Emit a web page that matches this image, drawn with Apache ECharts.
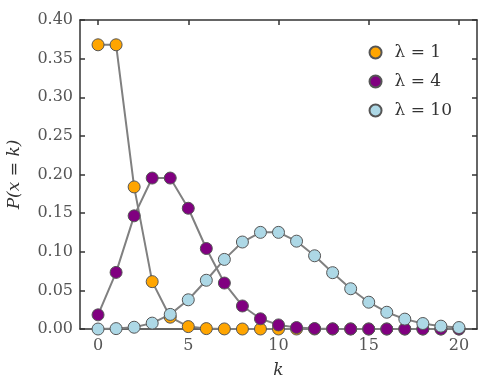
<!DOCTYPE html>
<html><head><meta charset="utf-8">
<script src="https://cdn.jsdelivr.net/npm/echarts@6/dist/echarts.min.js"></script>
<style>html,body{margin:0;padding:0;background:#fff}#c{width:491px;height:385px}</style>
</head><body><div id="c"></div>
<script>
const ks = [0,1,2,3,4,5,6,7,8,9,10,11,12,13,14,15,16,17,18,19,20];
const lam1 = [0.3679,0.3679,0.1839,0.0613,0.0153,0.0031,0.0005,0.0001,0.0000,0.0000,0.0000,0.0000,0.0000,0.0000,0.0000,0.0000,0.0000,0.0000,0.0000,0.0000,0.0000];
const lam4 = [0.0183,0.0733,0.1465,0.1954,0.1954,0.1563,0.1042,0.0595,0.0298,0.0132,0.0053,0.0019,0.0006,0.0002,0.0001,0.0000,0.0000,0.0000,0.0000,0.0000,0.0000];
const lam10 = [0.0000,0.0005,0.0023,0.0076,0.0189,0.0378,0.0631,0.0901,0.1126,0.1251,0.1251,0.1137,0.0948,0.0729,0.0521,0.0347,0.0217,0.0128,0.0071,0.0037,0.0019];
const seriesNames = ['λ = 1','λ = 4','λ = 10'];
const seriesColors = ['#FFA500','#800080','#ADD8E6'];
const xTicks = [0,5,10,15,20];
const yTickLabels = ['0.00','0.05','0.10','0.15','0.20','0.25','0.30','0.35','0.40'];

const font = 'DejaVu Serif';
const axisLine = {show:true, onZero:false, lineStyle:{color:'#333', width:1.5}};
const chart = echarts.init(document.getElementById('c'));
const mk = (name, vals, color) => ({
  name, type:'line', xAxisIndex:0, yAxisIndex:0,
  data: ks.map((k,i)=>[k, vals[i]]),
  symbol:'circle', symbolSize:12, showSymbol:true,
  lineStyle:{color:'#808080', width:2},
  itemStyle:{color, borderColor:'#555', borderWidth:1},
  emphasis:{disabled:true}, animation:false
});
chart.setOption({
  animation:false,
  grid:{left:80, right:14, top:20, bottom:56, containLabel:false, outerBoundsMode:'none'},
  legend:{
    orient:'vertical', right:34, top:39, icon:'circle', itemWidth:12, itemHeight:12, itemGap:12,
    textStyle:{fontFamily:font, fontSize:17, color:'#333', padding:[0,0,0,8]},
    data: seriesNames
  },
  xAxis:[
    {type:'value', min:-1, max:21, name:'k', nameLocation:'middle', nameGap:33,
     nameTextStyle:{fontFamily:font, fontStyle:'italic', fontSize:17, color:'#333'},
     axisLine, splitLine:{show:false},
     axisTick:{show:true, inside:true, length:5, customValues:xTicks, lineStyle:{color:'#333', width:1.5}},
     axisLabel:{customValues:xTicks, fontFamily:font, fontSize:16, color:'#555', margin:9}},
    {type:'value', position:'top', min:-1, max:21, axisLine, splitLine:{show:false},
     axisTick:{show:true, inside:true, length:5, customValues:xTicks, lineStyle:{color:'#333', width:1.5}},
     axisLabel:{show:false}}
  ],
  yAxis:[
    {type:'value', min:0, max:0.4, interval:0.05, name:'P(x = k)', nameLocation:'middle', nameGap:57, nameRotate:90,
     nameTextStyle:{fontFamily:font, fontStyle:'italic', fontSize:17, color:'#333'},
     axisLine, splitLine:{show:false},
     axisTick:{show:true, inside:true, length:5, lineStyle:{color:'#333', width:1.5}},
     axisLabel:{fontFamily:font, fontSize:16, color:'#555', margin:7, formatter:(v)=>yTickLabels[Math.round(v/0.05)]}},
    {type:'value', position:'right', min:0, max:0.4, interval:0.05, axisLine, splitLine:{show:false},
     axisTick:{show:true, inside:true, length:5, lineStyle:{color:'#333', width:1.5}},
     axisLabel:{show:false}}
  ],
  series:[mk(seriesNames[0], lam1, seriesColors[0]), mk(seriesNames[1], lam4, seriesColors[1]), mk(seriesNames[2], lam10, seriesColors[2])]
});
</script></body></html>
